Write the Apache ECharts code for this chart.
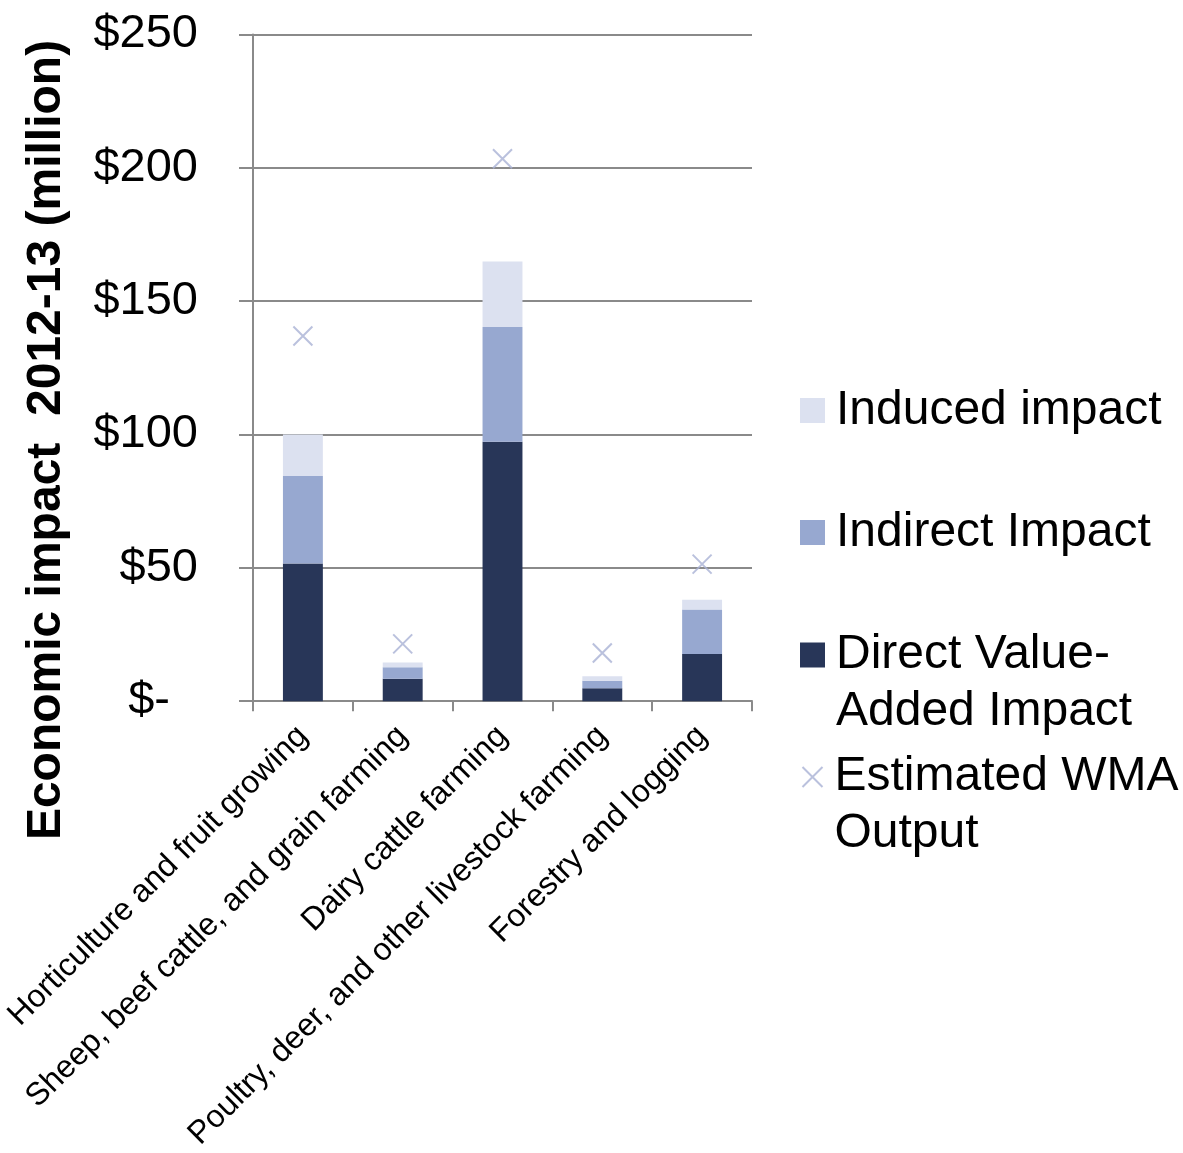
<!DOCTYPE html>
<html>
<head>
<meta charset="utf-8">
<script src="https://cdn.jsdelivr.net/npm/echarts@6/dist/echarts.min.js"></script>
<style>
  html, body { margin: 0; padding: 0; background: #ffffff; }
  #chart { width: 1183px; height: 1153px; }
</style>
</head>
<body>
<div id="chart"></div>
<script>
// Industry categories
const categories = [
  'Horticulture and fruit growing',
  'Sheep, beef cattle, and grain farming',
  'Dairy cattle farming',
  'Poultry, deer, and other livestock farming',
  'Forestry and logging'
];

// Economic impact components, $ million (2012-13)
const directValueAdded = [51.6, 8.4, 97.3, 4.9, 17.7];
const indirectImpact   = [32.8, 4.3, 43.0, 2.8, 16.7];
const inducedImpact    = [15.6, 1.8, 24.6, 1.7, 3.6];

// Estimated WMA output, $ million
const wmaOutput = [136.9, 21.5, 203.4, 18.1, 51.4];

// Value axis ticks
const yTicks = [0, 50, 100, 150, 200, 250];

const FONT = '"Liberation Sans", Arial, sans-serif';
const C_DIRECT = '#283658';
const C_INDIRECT = '#97a8d0';
const C_INDUCED = '#dce1f0';
const C_CROSS = '#a9b2d4';
const GRID_GRAY = '#8a8a8a';
const CROSS_PATH = 'path://M0,0L10,10M10,0L0,10';

const N_DIRECT = 'Direct Value-\nAdded Impact';
const N_INDIRECT = 'Indirect Impact';
const N_INDUCED = 'Induced impact';
const N_WMA = 'Estimated WMA\nOutput';

const LEGEND_FONT = 48;
const LEGEND_LINE = 57;

// One legend block per item; two-line names get a leading blank line so the
// icon lines up with the first line of text.
function legendAt(name, iconCenterY, icon, size, textGap, multiLine) {
  const blockH = multiLine ? LEGEND_LINE * 3 : LEGEND_LINE;
  return {
    data: [{ name: name, icon: icon }],
    formatter: multiLine ? function (n) { return '\n' + n; } : '{name}',
    orient: 'vertical',
    left: 800,
    top: iconCenterY - blockH / 2,
    padding: 0,
    itemWidth: size,
    itemHeight: size,
    selectedMode: false,
    textStyle: {
      fontFamily: FONT,
      fontSize: LEGEND_FONT,
      lineHeight: LEGEND_LINE,
      color: '#000000',
      padding: [0, 0, 0, textGap]
    }
  };
}

const chart = echarts.init(document.getElementById('chart'), null, { renderer: 'canvas' });

chart.setOption({
  animation: false,
  backgroundColor: '#ffffff',
  grid: { left: 253, right: 431, top: 34.4, bottom: 450.3, containLabel: false },
  legend: [
    legendAt(N_INDUCED, 410.5, 'rect', 25, 6, false),
    legendAt(N_INDIRECT, 532.5, 'rect', 25, 6, false),
    legendAt(N_DIRECT, 655, 'rect', 25, 6, true),
    legendAt(N_WMA, 777, CROSS_PATH, 20, 7, true)
  ],
  graphic: [{
    type: 'text',
    x: 47,
    y: 440,
    rotation: Math.PI / 2,
    style: {
      text: 'Economic impact  2012-13 (million)',
      font: 'bold 48px ' + FONT,
      fill: '#000000',
      align: 'center',
      verticalAlign: 'middle'
    }
  }],
  xAxis: {
    type: 'category',
    data: categories,
    axisLine: { lineStyle: { color: GRID_GRAY, width: 2 } },
    axisTick: { show: true, alignWithLabel: false, length: 10, lineStyle: { color: GRID_GRAY, width: 2 } },
    axisLabel: {
      rotate: 45,
      interval: 0,
      margin: 30,
      fontFamily: FONT,
      fontSize: 32,
      color: '#000000'
    },
    splitLine: { show: false }
  },
  yAxis: {
    type: 'value',
    min: yTicks[0],
    max: yTicks[yTicks.length - 1],
    interval: yTicks[1] - yTicks[0],
    axisLine: { show: true, lineStyle: { color: GRID_GRAY, width: 2 } },
    axisTick: { show: true, length: 14, lineStyle: { color: GRID_GRAY, width: 2 } },
    splitLine: { show: true, lineStyle: { color: GRID_GRAY, width: 2 } },
    axisLabel: {
      margin: 55,
      fontFamily: FONT,
      fontSize: 47,
      color: '#000000',
      formatter: function (v) { return v === 0 ? '{z|$-}' : '$' + v; },
      rich: { z: { fontFamily: FONT, fontSize: 47, color: '#000000', padding: [0, 28, 0, 0] } }
    }
  },
  series: [
    {
      name: N_DIRECT,
      type: 'bar',
      stack: 'impact',
      barWidth: '40%',
      data: directValueAdded,
      itemStyle: { color: C_DIRECT }
    },
    {
      name: N_INDIRECT,
      type: 'bar',
      stack: 'impact',
      barWidth: '40%',
      data: indirectImpact,
      itemStyle: { color: C_INDIRECT }
    },
    {
      name: N_INDUCED,
      type: 'bar',
      stack: 'impact',
      barWidth: '40%',
      data: inducedImpact,
      itemStyle: { color: C_INDUCED }
    },
    {
      name: N_WMA,
      type: 'scatter',
      data: wmaOutput,
      symbol: CROSS_PATH,
      symbolSize: 19,
      itemStyle: { color: 'none', borderColor: C_CROSS, borderWidth: 2 },
      z: 5
    }
  ]
});
</script>
</body>
</html>
